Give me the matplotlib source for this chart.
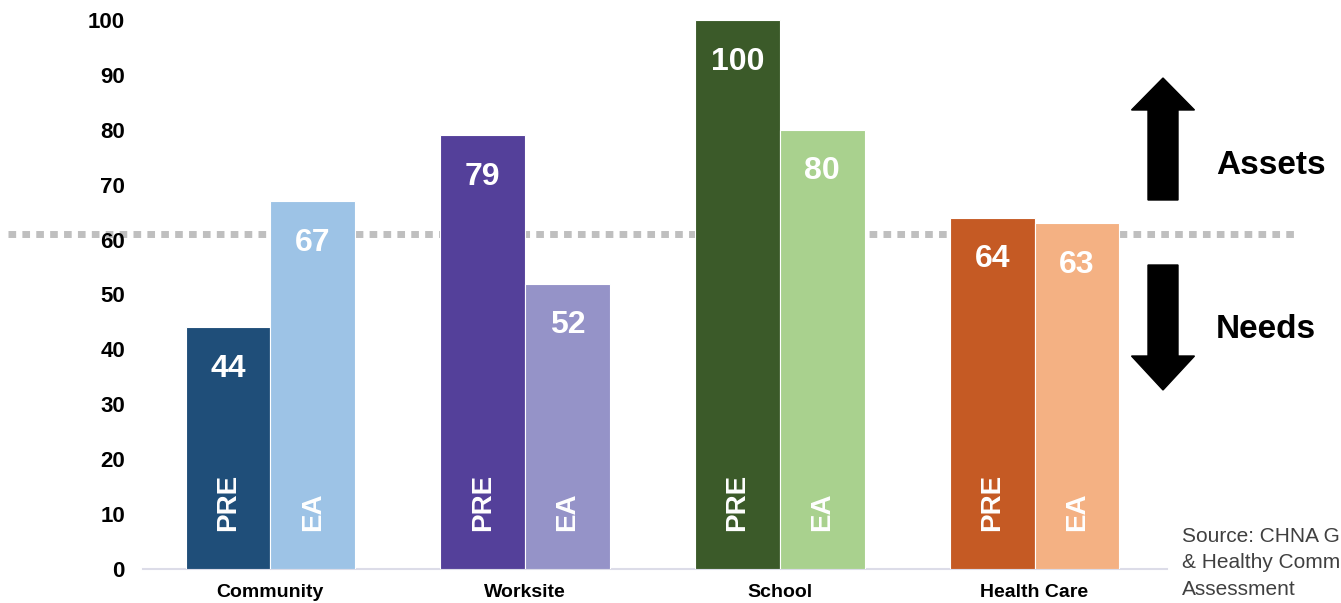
import matplotlib.pyplot as plt
import numpy as np
from matplotlib.patches import FancyArrow

plt.rcParams['font.family'] = ['Liberation Sans', 'DejaVu Sans']

# Settings scores by group, before (PRE) and EA
settings = ['Community', 'Worksite', 'School', 'Health Care']
pre_scores = [44, 79, 100, 64]
ea_scores = [67, 52, 80, 63]
pre_colors = ['#1f4e79', '#54409a', '#3b5a29', '#c55a24']
ea_colors = ['#9dc3e6', '#9593c8', '#a9d18e', '#f4b183']
threshold = 61
y_ticks = list(range(0, 101, 10))


def draw_chart(output_file):
    fig = plt.figure(figsize=(13.41, 6.03), dpi=100)
    ax = fig.add_axes([143 / 1341, 1 - 569 / 603, (1167 - 143) / 1341, (569 - 20) / 603])

    x = np.arange(len(settings))
    width = 0.333

    pre_bars = ax.bar(x - width / 2, pre_scores, width, color=pre_colors,
                      edgecolor='white', linewidth=0.8, zorder=3)
    ea_bars = ax.bar(x + width / 2, ea_scores, width, color=ea_colors,
                     edgecolor='white', linewidth=0.8, zorder=3)

    # assets / needs cut-off line, running past the plot on both sides
    ax.plot([-1.03, 4.04], [threshold, threshold], color='#bfbfbf', linewidth=5,
            dashes=(1.1, 0.9), solid_capstyle='butt', dash_capstyle='butt',
            clip_on=False, zorder=1)

    for bars, tag in [(pre_bars, 'PRE'), (ea_bars, 'EA')]:
        for rect in bars:
            cx = rect.get_x() + rect.get_width() / 2
            h = rect.get_height()
            ax.annotate(f'{h:g}', xy=(cx, h), xytext=(0, -30),
                        textcoords='offset points', ha='center', va='center',
                        color='white', fontsize=23, fontweight='bold', zorder=4)
            ax.text(cx, 7, tag, rotation=90, ha='center', va='bottom',
                    color='white', fontsize=20, fontweight='bold', zorder=4)

    ax.set_xlim(-0.5, 3.52)
    ax.set_ylim(0, 100)
    ax.set_yticks(y_ticks)
    ax.set_yticklabels([str(t) for t in y_ticks], fontsize=16, fontweight='bold')
    ax.set_xticks(x)
    ax.set_xticklabels(settings, fontsize=14, fontweight='bold')
    ax.tick_params(axis='y', length=0, pad=13)
    ax.tick_params(axis='x', length=0, pad=11)
    for side in ['top', 'right', 'left']:
        ax.spines[side].set_visible(False)
    ax.spines['bottom'].set_color('#dcdce8')
    ax.spines['bottom'].set_linewidth(1.5)

    # overlay in pixel units for the arrows and side notes
    over = fig.add_axes([0, 0, 1, 1], facecolor='none')
    over.set_xlim(0, 1341)
    over.set_ylim(603, 0)
    over.axis('off')
    over.add_patch(FancyArrow(1163, 200, 0, -122, width=30, head_width=63,
                              head_length=32, length_includes_head=True,
                              color='black'))
    over.add_patch(FancyArrow(1163, 265, 0, 125, width=30, head_width=63,
                              head_length=34, length_includes_head=True,
                              color='black'))
    over.text(1216, 165, 'Assets', fontsize=24, fontweight='bold', va='center', ha='left')
    over.text(1216, 330, 'Needs', fontsize=24, fontweight='bold', va='center', ha='left')
    over.text(1182, 563, 'Source: CHNA G\n& Healthy Comm\nAssessment', fontsize=15,
              color='#404040', va='center', ha='left', linespacing=1.5)

    fig.savefig(output_file, dpi=100)
    plt.close(fig)


if __name__ == '__main__':
    draw_chart('out.png')
